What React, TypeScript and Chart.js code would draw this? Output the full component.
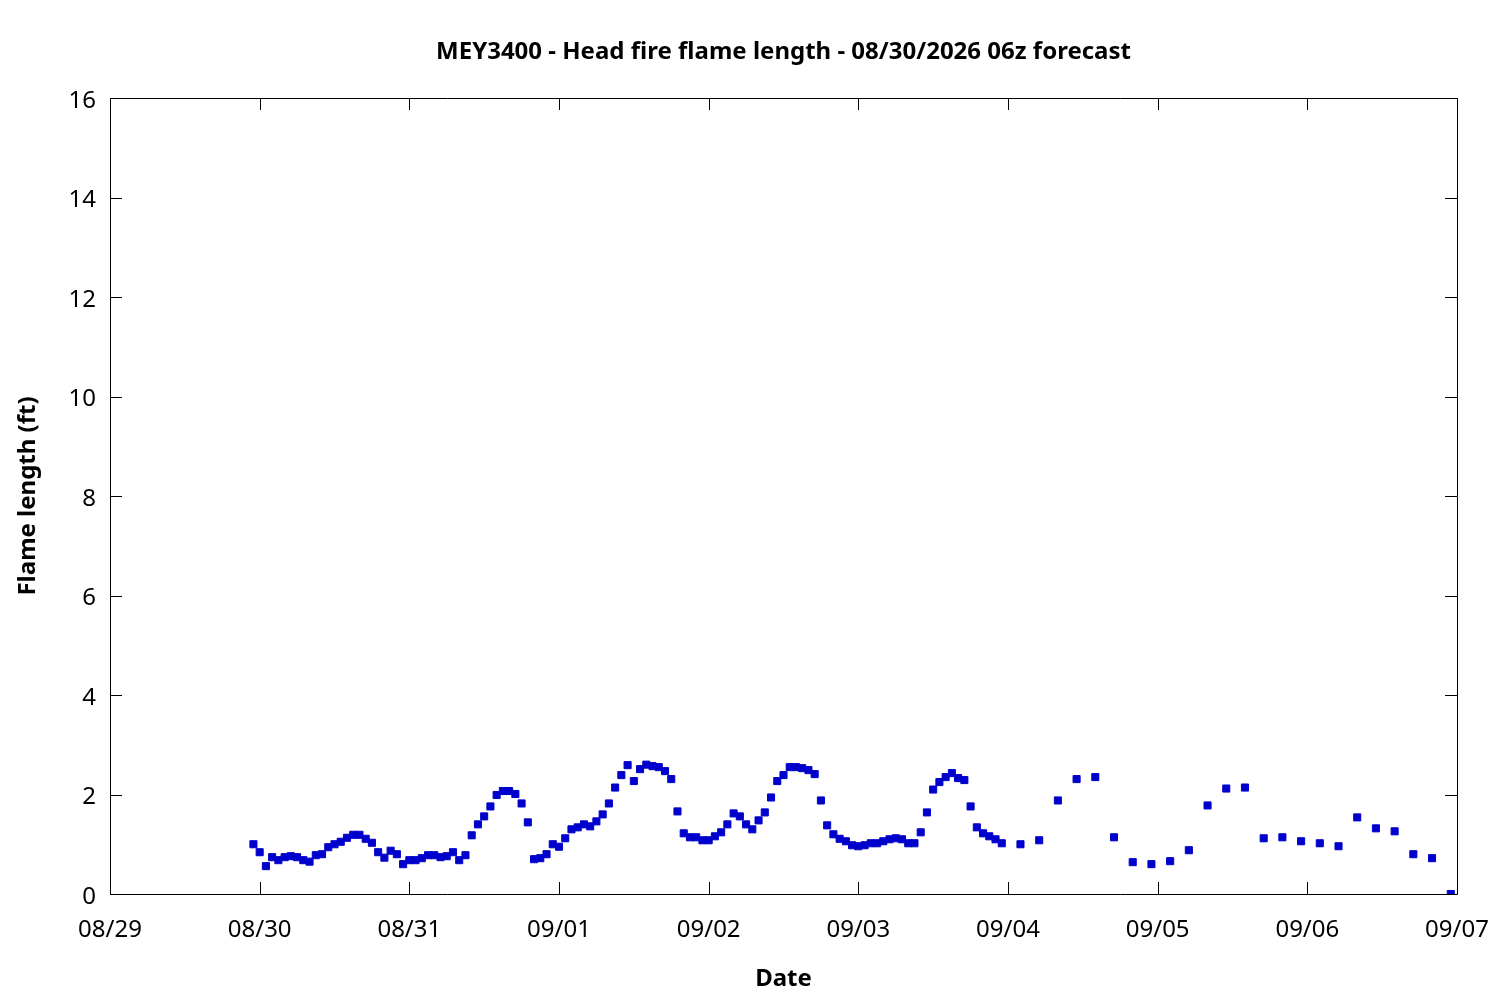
import { useEffect, useRef } from 'react';
import { Chart, registerables } from 'chart.js';
import type { Plugin } from 'chart.js';

Chart.register(...registerables);

// hours are counted from 08/29 00z
const dayLabels = ['08/29', '08/30', '08/31', '09/01', '09/02', '09/03', '09/04', '09/05', '09/06', '09/07'];
const yTicks = [0, 2, 4, 6, 8, 10, 12, 14, 16];

// hourly output, 08/29 23z .. 09/03 23z
const hourlyStart = 23;
const hourlyValues = [
  1.00, 0.84, 0.56, 0.74, 0.68, 0.74, 0.76, 0.74, 0.68, 0.65,
  0.78, 0.80, 0.94, 1.00, 1.05, 1.13, 1.19, 1.19, 1.11, 1.03,
  0.84, 0.73, 0.87, 0.80, 0.60, 0.68, 0.68, 0.72, 0.78, 0.78,
  0.74, 0.76, 0.84, 0.68, 0.78, 1.18, 1.40, 1.56, 1.76, 1.99,
  2.07, 2.07, 2.01, 1.82, 1.44, 0.70, 0.72, 0.80, 1.00, 0.95,
  1.12, 1.30, 1.34, 1.40, 1.36, 1.46, 1.60, 1.82, 2.14, 2.39,
  2.59, 2.27, 2.51, 2.60, 2.57, 2.55, 2.47, 2.31, 1.66, 1.22,
  1.14, 1.14, 1.08, 1.08, 1.16, 1.24, 1.40, 1.62, 1.56, 1.40,
  1.30, 1.48, 1.64, 1.94, 2.27, 2.39, 2.55, 2.55, 2.53, 2.49,
  2.41, 1.88, 1.38, 1.20, 1.11, 1.06, 0.98, 0.96, 0.98, 1.02,
  1.02, 1.06, 1.10, 1.12, 1.10, 1.02, 1.02, 1.24, 1.64, 2.10,
  2.25, 2.35, 2.43, 2.33, 2.29, 1.76, 1.34, 1.22, 1.16, 1.10,
  1.02,
];

// 3-hourly output, 09/04 02z .. 09/06 23z
const threeHourlyStart = 146;
const threeHourlyValues = [
  1.00, 1.08, 1.88, 2.31, 2.35, 1.14, 0.64, 0.60,
  0.66, 0.88, 1.78, 2.12, 2.14, 1.12, 1.14, 1.06,
  1.02, 0.96, 1.54, 1.32, 1.26, 0.80, 0.72, 0.00,
];

const MARK = '#0000cc';
const FONT = '"Noto Sans", "DejaVu Sans", sans-serif';

// gnuplot-style frame with inward ticks on all four sides, plus the title
const framePlugin: Plugin<'scatter'> = {
  id: 'frame',
  afterDraw(chart) {
    const { ctx, chartArea: a } = chart;
    const xs = chart.scales.x;
    const ys = chart.scales.y;
    const tl = 12;
    ctx.save();
    ctx.strokeStyle = '#000';
    ctx.lineWidth = 1;
    ctx.beginPath();
    ctx.rect(a.left + 0.5, a.top + 0.5, a.right - a.left, a.bottom - a.top);
    ctx.stroke();
    ctx.beginPath();
    dayLabels.forEach((_, i) => {
      const px = Math.round(xs.getPixelForValue(i * 24)) + 0.5;
      ctx.moveTo(px, a.bottom);
      ctx.lineTo(px, a.bottom - tl);
      ctx.moveTo(px, a.top);
      ctx.lineTo(px, a.top + tl);
    });
    yTicks.forEach((v) => {
      const py = Math.round(ys.getPixelForValue(v)) + 0.5;
      ctx.moveTo(a.left, py);
      ctx.lineTo(a.left + tl, py);
      ctx.moveTo(a.right, py);
      ctx.lineTo(a.right - tl, py);
    });
    ctx.stroke();
    ctx.fillStyle = '#000';
    ctx.font = `bold 24px ${FONT}`;
    ctx.textAlign = 'center';
    ctx.textBaseline = 'middle';
    ctx.fillText('MEY3400 - Head fire flame length - 08/30/2026 06z forecast', (a.left + a.right) / 2, 52);
    ctx.restore();
  },
};

const FlameChart: React.FC = () => {
  const chartRef = useRef<HTMLCanvasElement | null>(null);

  useEffect(() => {
    document.body.style.margin = '0';
    const ctx = chartRef.current?.getContext('2d');
    if (!ctx) return;

    const points = [
      ...hourlyValues.map((v, i) => ({ x: hourlyStart + i, y: v })),
      ...threeHourlyValues.map((v, i) => ({ x: threeHourlyStart + i * 3, y: v })),
    ];

    const chart = new Chart(ctx, {
      type: 'scatter',
      data: {
        datasets: [
          {
            label: 'Flame length',
            data: points,
            pointStyle: 'rect',
            pointRadius: 5,
            pointBorderWidth: 1,
            backgroundColor: MARK,
            borderColor: MARK,
          },
        ],
      },
      options: {
        animation: false,
        responsive: false,
        devicePixelRatio: 1,
        layout: { padding: { top: 98, right: 43, left: 0, bottom: 0 } },
        plugins: {
          legend: { display: false },
          tooltip: { enabled: false },
          title: { display: false },
        },
        scales: {
          x: {
            type: 'linear',
            min: 0,
            max: 216,
            afterFit: (s) => {
              s.height = 106;
              s.paddingLeft = 0;
              s.paddingRight = 0;
            },
            afterBuildTicks: (s) => { s.ticks = dayLabels.map((_, i) => ({ value: i * 24 })); },
            grid: { display: false, drawTicks: false },
            border: { display: false },
            ticks: {
              callback: (v) => dayLabels[Math.round(Number(v) / 24)] ?? '',
              color: '#000',
              font: { family: FONT, size: 24 },
              padding: 22,
              maxRotation: 0,
              autoSkip: false,
            },
            title: {
              display: true,
              text: 'Date',
              color: '#000',
              font: { family: FONT, size: 24, weight: 'bold' },
              padding: { top: 0, bottom: 6 },
            },
          },
          y: {
            type: 'linear',
            min: 0,
            max: 16,
            afterFit: (s) => {
              s.width = 110;
              s.paddingTop = 0;
              s.paddingBottom = 0;
            },
            afterBuildTicks: (s) => { s.ticks = yTicks.map((v) => ({ value: v })); },
            grid: { display: false, drawTicks: false },
            border: { display: false },
            ticks: {
              color: '#000',
              font: { family: FONT, size: 24 },
              padding: 14,
              labelOffset: 3,
            },
            title: {
              display: true,
              text: 'Flame length (ft)',
              color: '#000',
              font: { family: FONT, size: 24, weight: 'bold' },
              padding: { top: 14, bottom: 0 },
            },
          },
        },
      },
      plugins: [framePlugin],
    });

    return () => {
      chart.destroy();
    };
  }, []);

  return (
    <div style={{ width: 1500, height: 1000, background: '#fff' }}>
      <canvas ref={chartRef} width={1500} height={1000} style={{ width: 1500, height: 1000 }}></canvas>
    </div>
  );
};

export default function App() {
  return <FlameChart />;
}
